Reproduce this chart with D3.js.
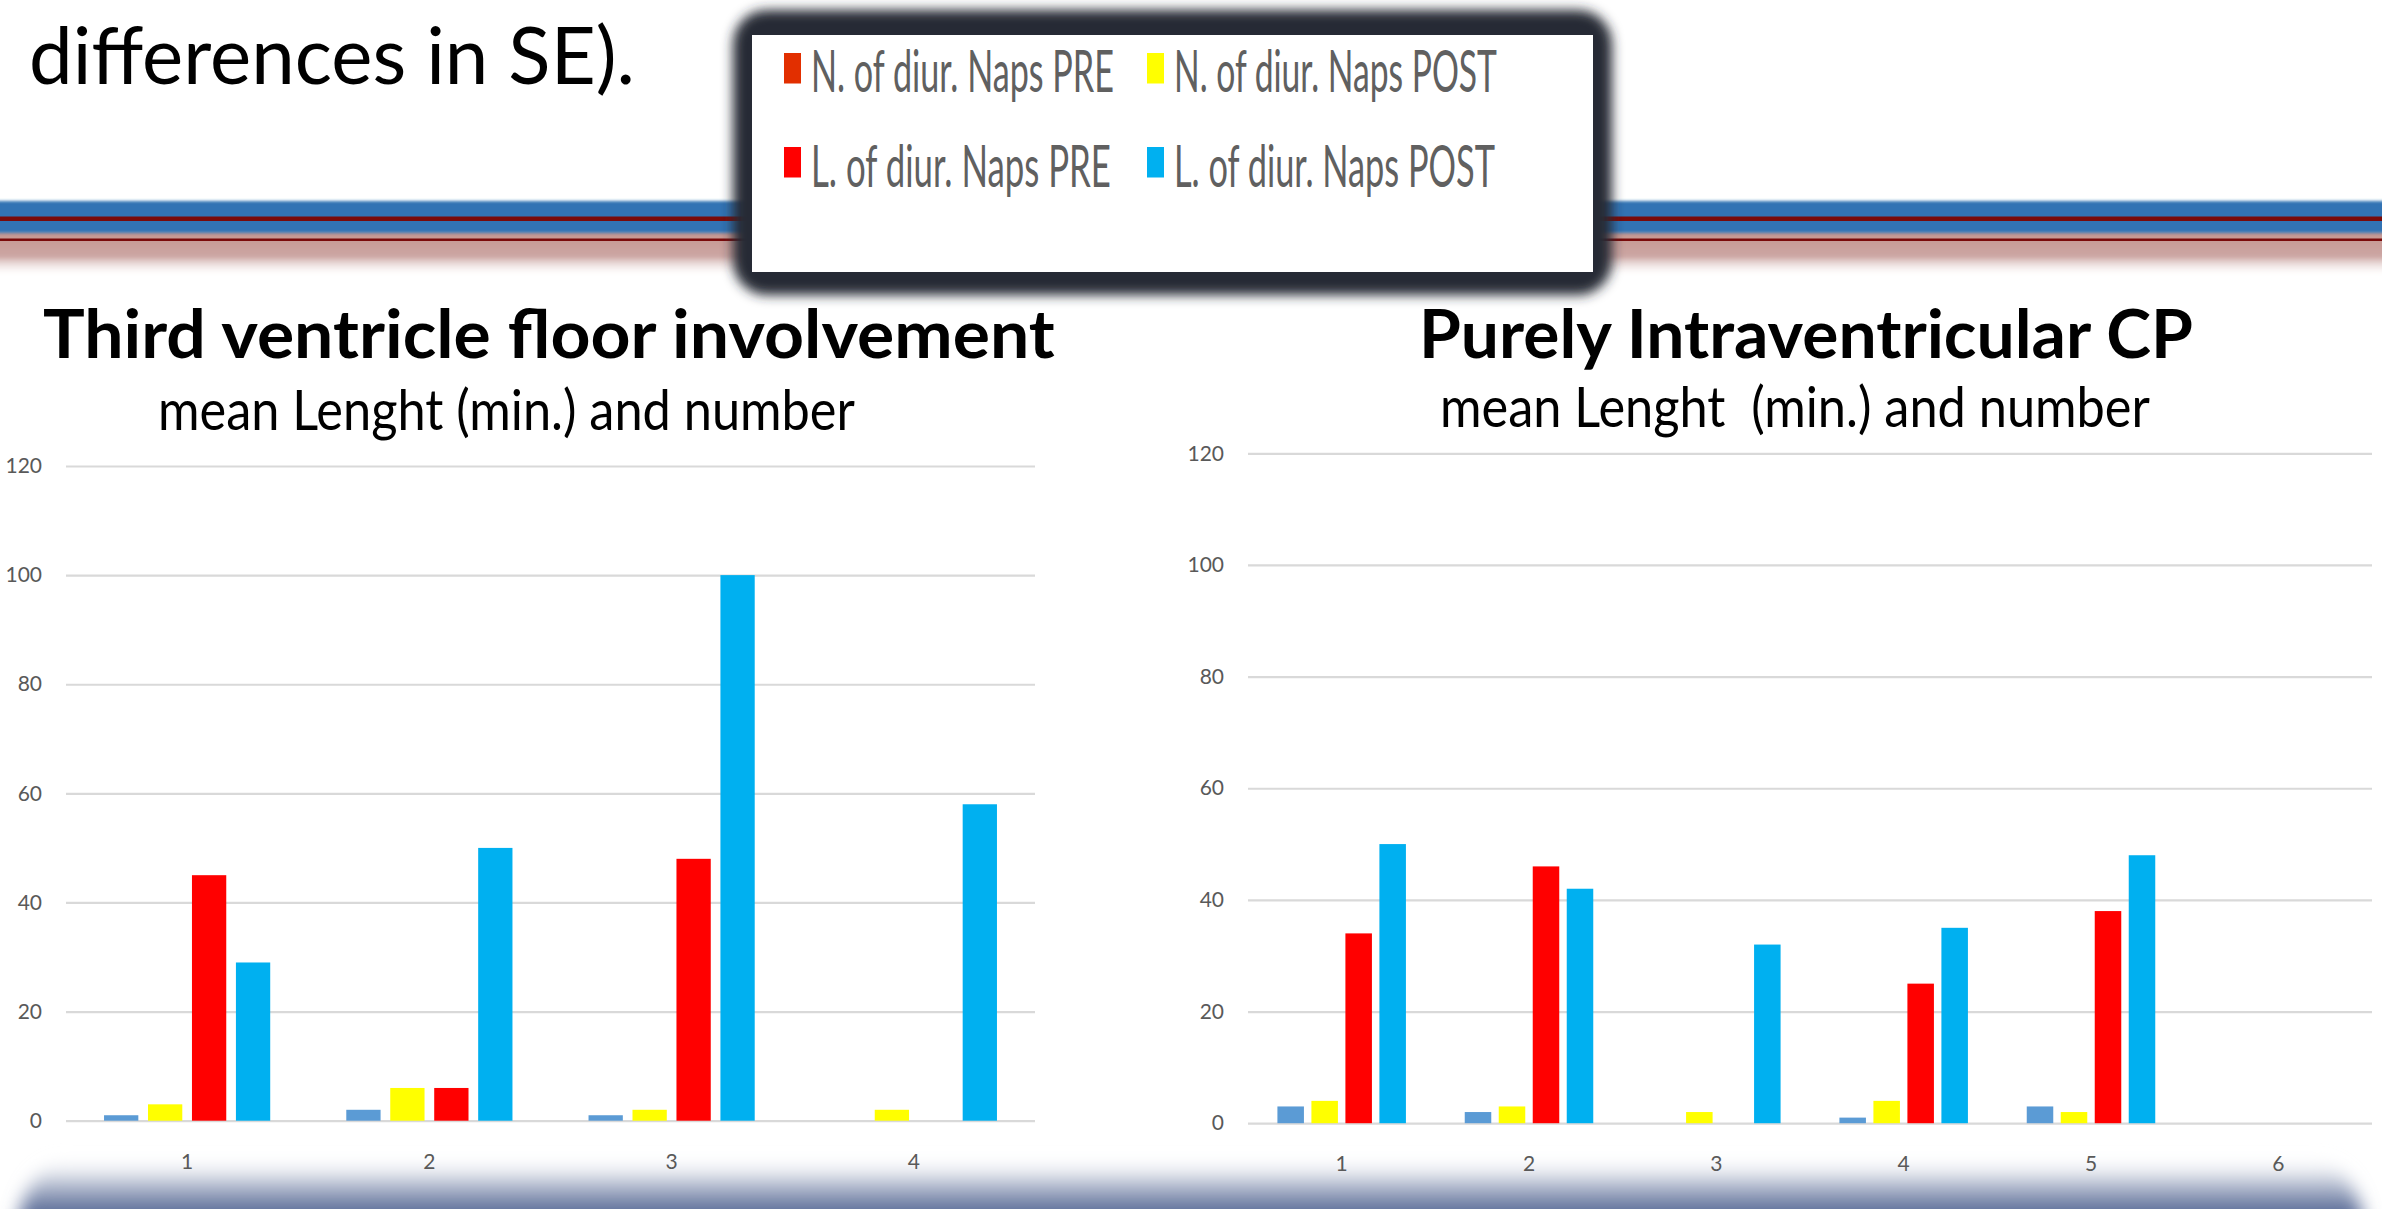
<!DOCTYPE html>
<html>
<head>
<meta charset="utf-8">
<script src="https://cdn.jsdelivr.net/npm/d3@7"></script>
<style>
  body { margin: 0; background: #fff; }
  svg { display: block; }
</style>
</head>
<body>
<div id="viz"></div>
<script>
// DATA
let seriesNames = ["N. of diur. Naps PRE", "N. of diur. Naps POST", "L. of diur. Naps PRE", "L. of diur. Naps POST"];

let thirdCategories = ["1", "2", "3", "4"];
let thirdNPre  = [1, 2, 1, 0];
let thirdNPost = [3, 6, 2, 2];
let thirdLPre  = [45, 6, 48, 0];
let thirdLPost = [29, 50, 100, 58];

let pureCategories = ["1", "2", "3", "4", "5", "6"];
let pureNPre  = [3, 2, 0, 1, 3, 0];
let pureNPost = [4, 3, 2, 4, 2, 0];
let pureLPre  = [34, 46, 0, 25, 38, 0];
let pureLPost = [50, 42, 32, 35, 48, 0];

let yTicks = [0, 20, 40, 60, 80, 100, 120];

// colours (chart bars and the pasted legend don't agree on the first one)
let barColors = ["#5B9BD5", "#FFFF00", "#FF0000", "#00B0F0"];
let legendColors = ["#E22F00", "#FFFF00", "#FF0000", "#00B0F0"];

let w = 2382;
let h = 1209;

let viz = d3.select("#viz")
  .append("svg")
    .attr("width", w)
    .attr("height", h)
;

let defs = viz.append("defs");

function blur(id, sd){
  defs.append("filter")
      .attr("id", id)
      .attr("x", "-10%").attr("y", "-50%")
      .attr("width", "120%").attr("height", "200%")
    .append("feGaussianBlur")
      .attr("stdDeviation", sd);
}
blur("soft", 1.6);
blur("shadow", 6);
blur("bottomBlur", 9);

let pink = defs.append("linearGradient")
  .attr("id", "pinkFade").attr("x1", 0).attr("y1", 0).attr("x2", 0).attr("y2", 1);
pink.append("stop").attr("offset", 0).attr("stop-color", "#C5958F");
pink.append("stop").attr("offset", 0.55).attr("stop-color", "#CCA6A3");
pink.append("stop").attr("offset", 1).attr("stop-color", "#ffffff").attr("stop-opacity", 0);

let bottomGrad = defs.append("linearGradient")
  .attr("id", "bottomFade")
  .attr("gradientUnits", "userSpaceOnUse")
  .attr("x1", 0).attr("y1", 1160).attr("x2", 0).attr("y2", 1212);
bottomGrad.append("stop").attr("offset", 0).attr("stop-color", "#ffffff").attr("stop-opacity", 0);
bottomGrad.append("stop").attr("offset", 0.4).attr("stop-color", "#C3CAD9");
bottomGrad.append("stop").attr("offset", 1).attr("stop-color", "#566996");

// squeeze/stretch a text horizontally so it covers the width seen on the slide
function fitText(sel, width){
  sel.each(function(){
    let t = d3.select(this);
    let natural = this.getComputedTextLength();
    let sx = width / natural;
    let x = +t.attr("x");
    let y = +t.attr("y");
    t.attr("x", 0).attr("y", 0)
      .attr("transform", "translate(" + x + "," + y + ") scale(" + sx + ",1)");
  });
}

// SLIDE DECORATION: stripe band
viz.append("rect")
  .attr("x", -20).attr("y", 231).attr("width", w + 40).attr("height", 46)
  .attr("fill", "url(#pinkFade)")
  .attr("filter", "url(#soft)");
viz.append("rect")
  .attr("x", -20).attr("y", 201).attr("width", w + 40).attr("height", 32)
  .attr("fill", "#3273B4")
  .attr("filter", "url(#soft)");
viz.append("rect")
  .attr("x", 0).attr("y", 216.5).attr("width", w).attr("height", 4.5)
  .attr("fill", "#7A0A0A");
viz.append("rect")
  .attr("x", 0).attr("y", 238.5).attr("width", w).attr("height", 2.5)
  .attr("fill", "#7A0A0A");

// bottom shadow band
viz.append("rect")
  .attr("x", 18).attr("y", 1150).attr("width", w - 36).attr("height", 160)
  .attr("rx", 80)
  .attr("fill", "url(#bottomFade)")
  .attr("filter", "url(#bottomBlur)");

// HEADING TEXT
viz.append("text")
  .text("differences in SE).")
  .attr("x", 29).attr("y", 84)
  .style("font-family", "Lato, 'Open Sans', sans-serif")
  .style("font-size", "80px")
  .attr("fill", "#000")
  .call(fitText, 606);

// LEGEND (pasted picture with dark frame)
viz.append("rect")
  .attr("x", 733).attr("y", 10).attr("width", 879).attr("height", 285)
  .attr("rx", 34)
  .attr("fill", "#252B36")
  .attr("filter", "url(#shadow)");
viz.append("rect")
  .attr("x", 752).attr("y", 35).attr("width", 841).attr("height", 237)
  .attr("fill", "#fff");

let legendX = [784, 1147];
let legendRows = [53, 147];
let legendTextX = [811, 1174];
let legendBase = [92, 186.5];
let legendWidths = [303, 323, 300, 321];

seriesNames.forEach(function(name, i){
  let col = i % 2;
  let row = Math.floor(i / 2);
  viz.append("rect")
    .attr("x", legendX[col]).attr("y", legendRows[row])
    .attr("width", 17).attr("height", 30.5)
    .attr("fill", legendColors[i]);
  viz.append("text")
    .text(name)
    .attr("x", legendTextX[col]).attr("y", legendBase[row])
    .style("font-family", "Lato, 'Open Sans', sans-serif")
    .style("font-size", "58px")
    .attr("fill", "#606060")
    .call(fitText, legendWidths[i]);
});

// CHARTS
function drawChart(cats, series, box){
  let x0 = d3.scaleBand().domain(cats).range([box.left, box.right]);
  let bw = x0.bandwidth();
  let x1 = d3.scaleBand()
    .domain(d3.range(series.length))
    .range([bw * 0.157, bw * 0.843])
    .paddingInner(0.22);
  let y = d3.scaleLinear().domain([0, 120]).range([box.zero, box.top]);

  let g = viz.append("g");

  // gridlines + y labels
  g.append("g")
    .attr("transform", "translate(" + box.left + ",0)")
    .call(d3.axisLeft(y).tickValues(yTicks).tickSize(-(box.right - box.left)).tickPadding(24))
    .call(function(a){ a.select(".domain").remove(); })
    .call(function(a){ a.selectAll("line").attr("stroke", "#D9D9D9").attr("stroke-width", 2.2); })
    .call(function(a){
      a.selectAll("text")
        .attr("fill", "#595959")
        .style("font-family", "Lato, 'Open Sans', sans-serif")
        .style("font-size", "21px");
    });

  // x labels
  g.append("g")
    .attr("transform", "translate(0," + box.zero + ")")
    .call(d3.axisBottom(x0).tickSize(0).tickPadding(33))
    .call(function(a){ a.select(".domain").remove(); })
    .call(function(a){
      a.selectAll("text")
        .attr("fill", "#595959")
        .style("font-family", "Lato, 'Open Sans', sans-serif")
        .style("font-size", "21px");
    });

  // bars
  let rows = cats.map(function(c, i){
    return series.map(function(s, k){ return {cat: c, k: k, v: s[i]}; });
  });

  g.selectAll(".cluster").data(rows).enter()
    .append("g")
      .attr("class", "cluster")
    .selectAll("rect").data(function(d){ return d; }).enter()
    .append("rect")
      .attr("x", function(d){ return x0(d.cat) + x1(d.k); })
      .attr("y", function(d){ return y(d.v); })
      .attr("width", x1.bandwidth())
      .attr("height", function(d){ return y(0) - y(d.v); })
      .attr("fill", function(d){ return barColors[d.k]; });

  // titles
  viz.append("text")
    .text(box.title)
    .attr("x", box.titleX).attr("y", 357.5)
    .style("font-family", "Lato, 'Open Sans', sans-serif")
    .style("font-weight", "bold")
    .style("font-size", "67px")
    .attr("fill", "#000")
    .call(fitText, box.titleW);

  viz.append("text")
    .text(box.sub)
    .attr("x", box.subX).attr("y", box.subY)
    .style("font-family", "Lato, 'Open Sans', sans-serif")
    .style("font-size", "56px")
    .attr("fill", "#000")
    .style("white-space", "pre")
    .call(fitText, box.subW);
}

drawChart(thirdCategories, [thirdNPre, thirdNPost, thirdLPre, thirdLPost], {
  left: 66, right: 1035, zero: 1120.7, top: 466,
  title: "Third ventricle floor involvement", titleX: 43, titleW: 1012,
  sub: "mean Lenght (min.) and number", subX: 158, subY: 430, subW: 697
});

drawChart(pureCategories, [pureNPre, pureNPost, pureLPre, pureLPost], {
  left: 1248, right: 2372, zero: 1123.2, top: 453.3,
  title: "Purely Intraventricular CP", titleX: 1419, titleW: 774,
  sub: "mean Lenght  (min.) and number", subX: 1440, subY: 427, subW: 710
});
</script>
</body>
</html>
